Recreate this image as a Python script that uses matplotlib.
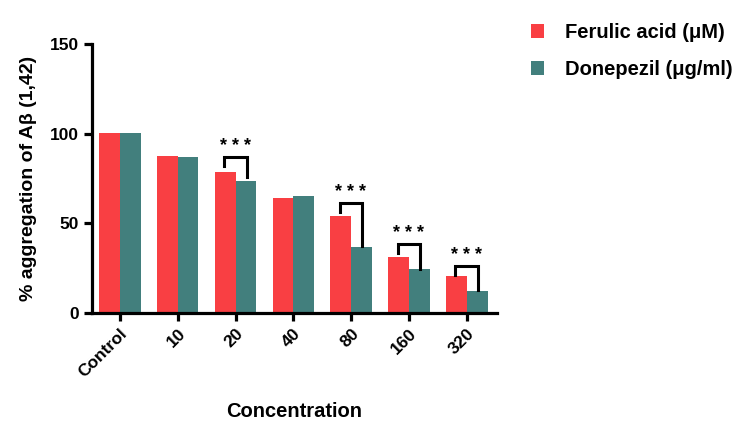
import matplotlib
matplotlib.use("Agg")
import matplotlib.pyplot as plt
import numpy as np

plt.rcParams['font.family'] = ['Liberation Sans', 'DejaVu Sans']

categories = ["Control", "10", "20", "40", "80", "160", "320"]
ferulic = [100.5, 87.5, 78.7, 64.2, 54.2, 31.3, 20.5]
donepezil = [100.5, 87.1, 73.5, 65.3, 36.7, 24.4, 12.3]
# significance brackets: (category index, bracket top, left leg bottom, right leg bottom)
sig_idx = [2, 4, 5, 6]
sig_top = [86.8, 61.4, 38.4, 26.1]
sig_left = [81.9, 56.4, 33.5, 21.0]
sig_right = [75.6, 37.2, 24.4, 12.7]
sig_label = "* * *"

red = '#F93F43'
teal = '#427F7D'

fig = plt.figure(figsize=(7.5, 4.37), dpi=100)
ax = fig.add_axes([0.1227, 0.2844, 0.54, 0.6149])

x = np.arange(len(categories))
w = 0.36
ax.bar(x - w / 2, ferulic, width=w, color=red, label='Ferulic acid (μM)')
ax.bar(x + w / 2, donepezil, width=w, color=teal, label='Donepezil (μg/ml)')

for i, top, lb, rb in zip(sig_idx, sig_top, sig_left, sig_right):
    xl = i - 0.2
    xr = i + 0.19
    ax.plot([xl, xl, xr, xr], [lb, top, top, rb], color='black', lw=2.2,
            solid_joinstyle='miter', clip_on=False)
    ax.text((xl + xr) / 2, top + 1.0, sig_label, ha='center', va='bottom',
            fontsize=13, fontweight='bold', color='black')

ax.set_xlim(-0.48, 6.52)
ax.set_ylim(0, 150)
ax.set_yticks([0, 50, 100, 150])
ax.set_xticks(x)
ax.set_xticklabels(categories, rotation=45, ha='right', rotation_mode='anchor',
                   fontsize=12.5, fontweight='bold')
for lbl in ax.get_yticklabels():
    lbl.set_fontsize(12.5)
    lbl.set_fontweight('bold')

for s in ['top', 'right']:
    ax.spines[s].set_visible(False)
for s in ['left', 'bottom']:
    ax.spines[s].set_linewidth(2.3)
ax.tick_params(axis='both', width=2.3, length=6, direction='out')

ax.set_ylabel('% aggregation of Aβ (1,42)', fontsize=14, fontweight='bold', labelpad=9)
ax.set_xlabel('Concentration', fontsize=14.5, fontweight='bold', labelpad=16)

leg = ax.legend(loc='upper left', bbox_to_anchor=(1.038, 1.145), frameon=False,
                prop={'size': 14.5, 'weight': 'bold'}, handlelength=0.65, handleheight=0.65,
                handletextpad=1.05, labelspacing=0.9)

fig.savefig('out.png', dpi=100)
